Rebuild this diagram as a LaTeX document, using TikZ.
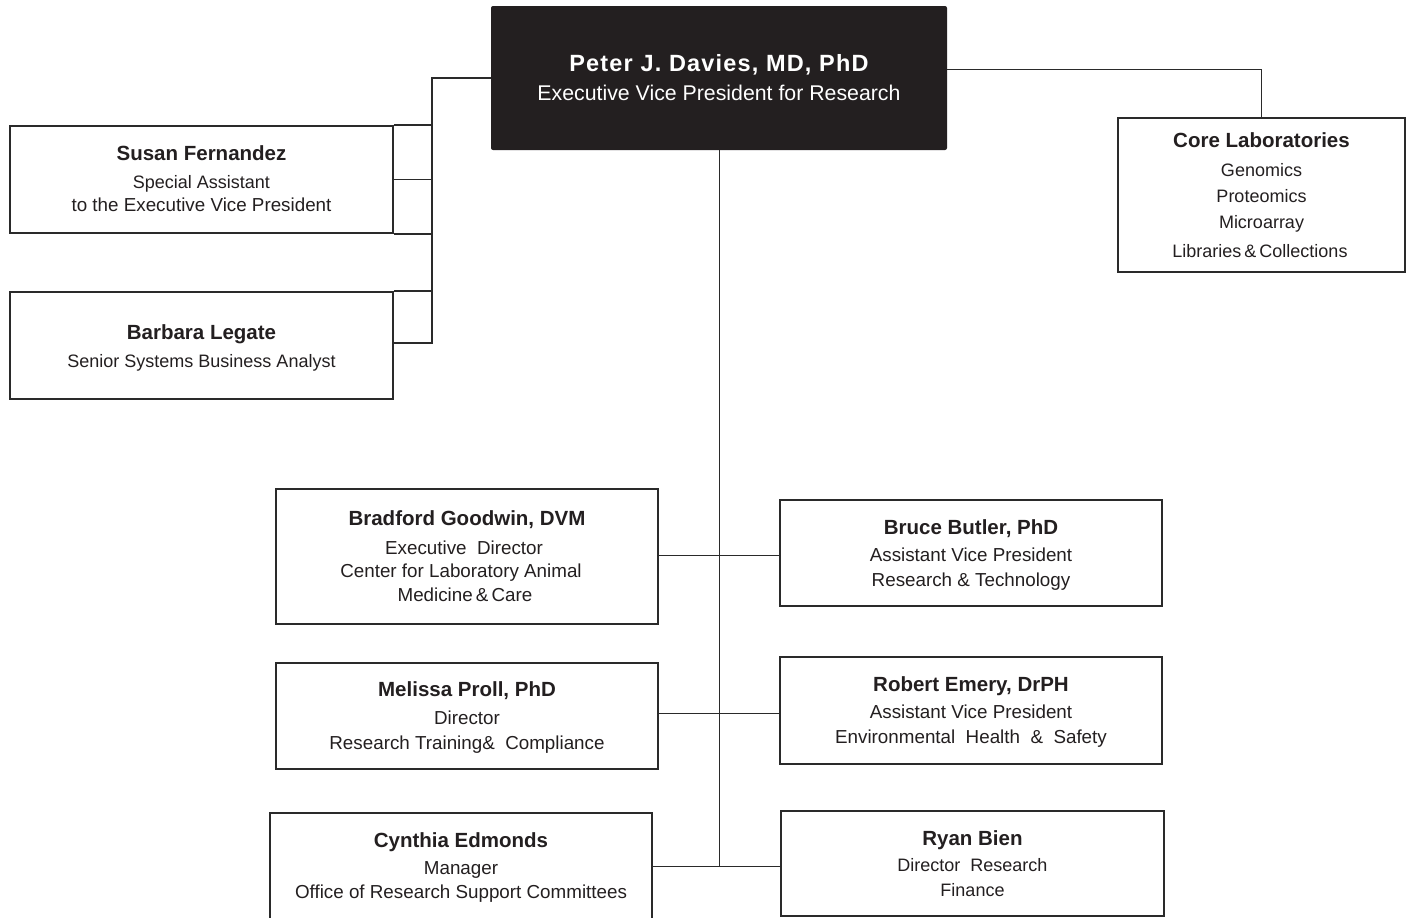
\documentclass[tikz,border=0pt]{standalone}
\usepackage{fontspec}
\setmainfont{Liberation Sans}
\newfontfamily\spacedbold[LetterSpace=5]{Liberation Sans}
\definecolor{ink}{HTML}{231F20}
\definecolor{linec}{HTML}{2A2A2A}
\begin{document}
\begin{tikzpicture}[x=1pt,y=-1pt,
  box/.style={draw=linec, line width=1.3pt, fill=white, inner sep=0pt, rectangle},
  conn/.style={draw=linec, line width=1.3pt},
  lconn/.style={draw=linec, line width=1.8pt},
  nm/.style={anchor=base, text=ink, inner sep=0pt, font=\fontsize{20.5}{22}\selectfont\bfseries},
  tx/.style={anchor=base, text=ink, inner sep=0pt, font=\fontsize{18}{20}\selectfont},
  lx/.style={anchor=base, text=ink, inner sep=0pt, font=\fontsize{18.8}{20}\selectfont},
]
\useasboundingbox (0,0) rectangle (1409,918);
\fill[white] (0,0) rectangle (1409,918);

% top box
\node[fill=ink, rounded corners=2pt, minimum width=456pt, minimum height=144pt, inner sep=0pt] (peter) at (719,78) {};
\node[nm, text=white, font=\fontsize{23.5}{25}\spacedbold\bfseries] (peter1) at (719,71) {Peter J. Davies, MD, PhD};
\node[tx, text=white, font=\fontsize{21.3}{23}\selectfont] (peter2) at (719,100) {Executive Vice President for Research};

% left staff boxes
\node[box, lconn, minimum width=383pt, minimum height=107pt] (susan) at (201.5,179.5) {};
\node[nm] (susan1) at (201.5,160) {Susan Fernandez};
\node[tx] (susan2) at (201.5,188) {Special Assistant};
\node[tx, font=\fontsize{18.8}{20}\selectfont] (susan3) at (201.5,211) {to the Executive Vice President};

\node[box, lconn, minimum width=383pt, minimum height=107pt] (barbara) at (201.5,345.5) {};
\node[nm] (barbara1) at (201.5,339) {Barbara Legate};
\node[tx] (barbara2) at (201.5,367) {Senior Systems Business Analyst};

\coordinate (spine) at (432,343);
\draw[lconn] (peter.west) -| (spine) -- (spine -| barbara.east);
\draw[lconn] (susan.north east) -- (susan.north east -| spine);
\draw[lconn] (susan.east) -- (susan.east -| spine);
\draw[lconn] (susan.south east) -- (susan.south east -| spine);
\draw[lconn] (barbara.north east) -- (barbara.north east -| spine);

% core labs
\node[box, minimum width=287pt, minimum height=154pt] (core) at (1261.5,195) {};
\node[nm] (core1) at (1261.5,147) {Core Laboratories};
\node[tx] (core2) at (1261.5,176) {Genomics};
\node[tx] (core3) at (1261.5,202) {Proteomics};
\node[tx] (core4) at (1261.5,228) {Microarray};
\node[tx] (core5) at (1261.5,257) {Libraries\,\&\,Collections\,};
\draw[conn, line width=1pt] ([yshift=9pt]peter.east) -| (core.north);

% lower boxes
\node[box, minimum width=382pt, minimum height=135pt] (bradford) at (467,556.5) {};
\node[nm] (bradford1) at (467,525) {Bradford Goodwin, DVM};
\node[lx] (bradford2) at (464,554) {Executive~ Director};
\node[lx] (bradford3) at (461,577) {Center for Laboratory Animal};
\node[lx] (bradford4) at (465,601) {Medicine\,\&\,Care};

\node[box, minimum width=382pt, minimum height=106pt] (bruce) at (971,553) {};
\node[nm] (bruce1) at (971,534) {Bruce Butler, PhD};
\node[lx] (bruce2) at (971,561) {Assistant Vice President};
\node[lx] (bruce3) at (971,586) {Research \& Technology};

\node[box, minimum width=382pt, minimum height=106pt] (melissa) at (467,716) {};
\node[nm] (melissa1) at (467,696) {Melissa Proll, PhD};
\node[lx] (melissa2) at (467,724) {Director};
\node[lx] (melissa3) at (467,749) {Research Training\&~ Compliance};

\node[box, minimum width=382pt, minimum height=107pt] (robert) at (971,710.5) {};
\node[nm] (robert1) at (971,691) {Robert Emery, DrPH};
\node[lx] (robert2) at (971,718) {Assistant Vice President};
\node[lx] (robert3) at (971,743) {Environmental~ Health~ \&~ Safety};

\node[box, minimum width=382pt, minimum height=112pt] (cynthia) at (461,869) {};
\node[nm] (cynthia1) at (461,847) {Cynthia Edmonds};
\node[lx] (cynthia2) at (461,874) {Manager};
\node[lx] (cynthia3) at (461,898) {Office of Research Support Committees};

\node[box, minimum width=383pt, minimum height=105pt] (ryan) at (972.5,863.5) {};
\node[nm] (ryan1) at (972.5,845) {Ryan Bien};
\node[tx] (ryan2) at (972.5,871) {Director~ Research};
\node[tx] (ryan3) at (972.5,896) {Finance};

\coordinate (j1) at (719,555);
\coordinate (j2) at (719,713);
\coordinate (j3) at (719,866);
\draw[conn, line width=1pt] (peter.south) -- (j3);
\draw[conn, line width=1pt] (j1 -| bradford.east) -- (j1 -| bruce.west);
\draw[conn, line width=1pt] (j2 -| melissa.east) -- (j2 -| robert.west);
\draw[conn, line width=1pt] (j3 -| cynthia.east) -- (j3 -| ryan.west);
\end{tikzpicture}
\end{document}
